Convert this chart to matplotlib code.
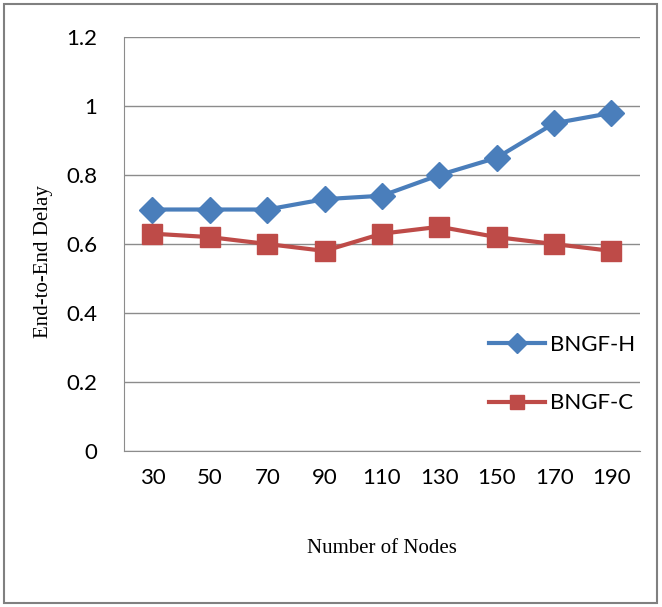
import matplotlib
matplotlib.use('Agg')
import matplotlib.pyplot as plt
from matplotlib.patches import Rectangle

nodes = ['30', '50', '70', '90', '110', '130', '150', '170', '190']
bngf_h = [0.70, 0.70, 0.70, 0.73, 0.74, 0.80, 0.85, 0.95, 0.98]
bngf_c = [0.63, 0.62, 0.60, 0.58, 0.63, 0.65, 0.62, 0.60, 0.58]
yticks = [0, 0.2, 0.4, 0.6, 0.8, 1, 1.2]
ytick_labels = ['0', '0.2', '0.4', '0.6', '0.8', '1', '1.2']

fig = plt.figure(figsize=(6.62, 6.07), dpi=100)
# outer frame of the chart
fig.patches.append(Rectangle((0.006, 0.006), 0.986, 0.988, transform=fig.transFigure,
                             fill=False, edgecolor='#808080', linewidth=1.5))

ax = fig.add_axes([0.187, 0.257, 0.780, 0.682])
x = range(len(nodes))
ax.plot(x, bngf_h, color='#4A7EBB', linewidth=3, marker='D', markersize=13, label='BNGF-H')
ax.plot(x, bngf_c, color='#BE4B48', linewidth=3, marker='s', markersize=14, label='BNGF-C')

ax.set_xlim(-0.5, len(nodes) - 0.5)
ax.set_ylim(0, 1.2)
ax.set_yticks(yticks)
ax.set_yticklabels(ytick_labels)
ax.set_xticks(list(x))
ax.set_xticklabels(nodes)
ax.grid(axis='y', color='#8c8c8c', linewidth=1)
ax.set_axisbelow(True)
for s in ['top', 'right']:
    ax.spines[s].set_visible(False)
for s in ['left', 'bottom']:
    ax.spines[s].set_color('#8c8c8c')
ax.tick_params(length=0, labelsize=16)
ax.tick_params(axis='x', pad=12)
ax.tick_params(axis='y', pad=19)
for lab in ax.get_xticklabels() + ax.get_yticklabels():
    lab.set_family('Lato')

ax.set_ylabel('End-to-End Delay', family='Liberation Serif', fontsize=15)
ax.set_xlabel('Number of Nodes', family='Liberation Serif', fontsize=15)
ax.yaxis.set_label_coords(-0.138, 0.457)
ax.xaxis.set_label_coords(0.5, -0.213)

leg = ax.legend(loc='center left', bbox_to_anchor=(0.69, 0.186), frameon=False,
                prop={'family': 'Lato', 'size': 16}, labelspacing=1.75,
                handlelength=2.5, handletextpad=0.25, borderaxespad=0)
for h in leg.legend_handles:
    h.set_markersize(10)

fig.savefig('out.png', dpi=100)
